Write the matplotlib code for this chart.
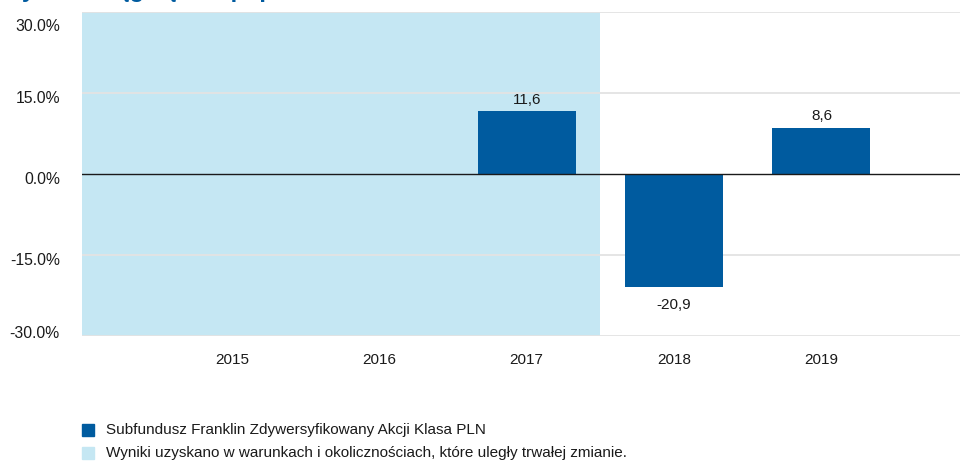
import numpy as np
import matplotlib.pyplot as plt
from matplotlib.patches import Rectangle
from matplotlib.transforms import ScaledTranslation

# ----------------------------------------------------------------------------------------------------------------------
years = ["2015", "2016", "2017", "2018", "2019"]
returns = [np.nan, np.nan, 11.6, -20.9, 8.6]
value_labels = ["", "", "11,6", "-20,9", "8,6"]
y_ticks = [30, 15, 0, -15, -30]
shaded_until = 2.5  # last category covered by the changed-conditions band

fund_name = "Subfundusz Franklin Zdywersyfikowany Akcji Klasa PLN"
band_note = "Wyniki uzyskano w warunkach i okolicznościach, które uległy trwałej zmianie."
title = "Wyniki osiągnięte w poprzednich latach"

BAR_BLUE = "#005B9F"
BAND_BLUE = "#C5E7F3"
GRID_GREY = "#E3E3E3"
TXT = "#1a1a1a"
FS = 11

plt.rcParams["font.family"] = ["Liberation Sans", "DejaVu Sans"]

fig = plt.figure(figsize=(9.6, 4.65), dpi=100)
ax = fig.add_axes([82 / 960, 1 - 336 / 465, 878 / 960, 324 / 465])

x = np.arange(len(years))
ax.set_xlim(-1.017, 4.94)
ax.set_ylim(-30, 30)

# Shaded band for years under different conditions
ax.axvspan(-1.017, shaded_until, color=BAND_BLUE, zorder=0, lw=0)

# Light gridlines, black zero line
for t in y_ticks:
    if t != 0:
        ax.axhline(t, color=GRID_GREY, lw=1.3, zorder=1)
ax.axhline(0, color=TXT, lw=1.0, zorder=3)

ax.bar(x, returns, width=0.665, color=BAR_BLUE, zorder=2)

# Value labels above / below each bar
for xi, val, lab in zip(x, returns, value_labels):
    if np.isnan(val):
        continue
    if val >= 0:
        ax.annotate(lab, (xi, val), xytext=(0, 3), textcoords="offset points",
                    ha="center", va="bottom", fontsize=FS, color=TXT)
    else:
        ax.annotate(lab, (xi, val), xytext=(0, -8), textcoords="offset points",
                    ha="center", va="top", fontsize=FS, color=TXT)

ax.set_yticks(y_ticks)
ax.set_yticklabels([f"{t:.1f}%" for t in y_ticks], fontsize=11.3, color=TXT)
ax.set_xticks(x)
ax.set_xticklabels(years, fontsize=FS, color=TXT)
ax.tick_params(axis="both", length=0)
ax.tick_params(axis="y", pad=16)
ax.tick_params(axis="x", pad=12)
for spine in ax.spines.values():
    spine.set_visible(False)

# Y labels sit just below their gridline; the outer ones are kept inside the plot height
label_shift = {30: -13, 15: -4, 0: -4, -15: -4, -30: 4}
for t, lab in zip(y_ticks, ax.get_yticklabels()):
    lab.set_transform(lab.get_transform()
                      + ScaledTranslation(0, label_shift[t] / 100, fig.dpi_scale_trans))

# Title sits mostly above the canvas, only its descenders show
fig.text(0.0, 1 + 3 / 465, title, fontsize=17, fontweight="bold", color=BAR_BLUE,
         ha="left", va="baseline")

# Legend drawn manually
for i, (col, txt) in enumerate([(BAR_BLUE, fund_name), (BAND_BLUE, band_note)]):
    y_px = 430 + i * 23
    fig.patches.append(Rectangle((82 / 960, 1 - (y_px + 6) / 465), 12 / 960, 12 / 465,
                                 transform=fig.transFigure, color=col))
    fig.text(106 / 960, 1 - y_px / 465, txt, fontsize=FS, color=TXT,
             ha="left", va="center")

fig.savefig("out.png", dpi=100)
